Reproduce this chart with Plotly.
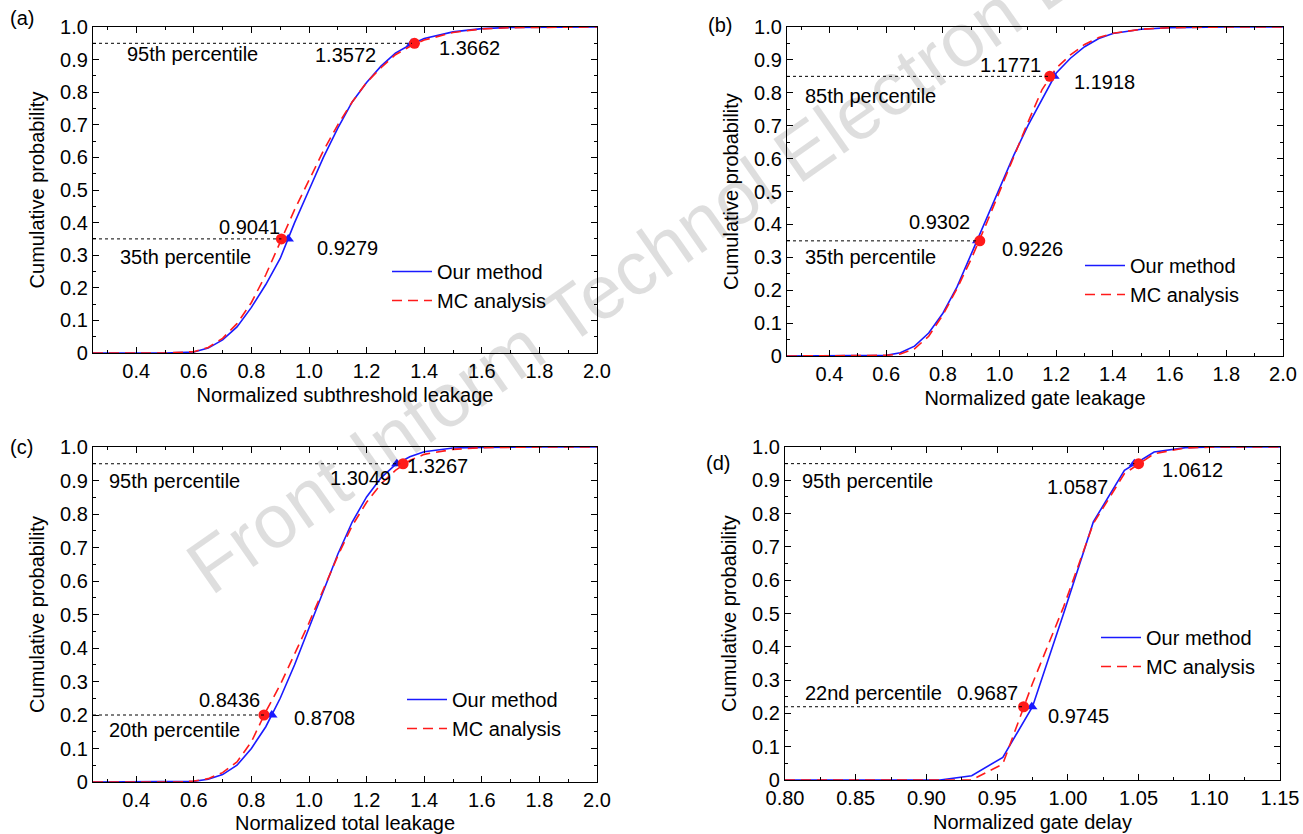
import plotly.graph_objects as go

FONT = "Liberation Sans, Arial, sans-serif"
FS = 20
W, H = 1303, 834

# ---------------- data ----------------
# (a) subthreshold leakage
a_x = [0.25, 0.50, 0.60, 0.65, 0.70, 0.75, 0.80, 0.85, 0.90, 0.95, 1.00, 1.05, 1.10,
       1.15, 1.20, 1.25, 1.30, 1.35, 1.40, 1.50, 1.60, 1.70, 2.00]
a_ours = [0, 0, 0.003, 0.015, 0.04, 0.08, 0.14, 0.21, 0.29, 0.40, 0.50, 0.60, 0.69,
          0.77, 0.83, 0.88, 0.92, 0.945, 0.965, 0.985, 0.995, 0.999, 1.0]
a_mc = [0, 0, 0.004, 0.017, 0.045, 0.09, 0.155, 0.24, 0.34, 0.44, 0.53, 0.62, 0.70,
        0.77, 0.83, 0.875, 0.915, 0.94, 0.96, 0.983, 0.994, 0.998, 1.0]

# (b) gate leakage
b_x = [0.25, 0.55, 0.60, 0.65, 0.70, 0.75, 0.80, 0.85, 0.90, 0.95, 1.00, 1.05, 1.10,
       1.15, 1.20, 1.25, 1.30, 1.35, 1.40, 1.50, 1.60, 1.80, 2.00]
b_ours = [0, 0, 0.002, 0.01, 0.03, 0.07, 0.13, 0.21, 0.31, 0.41, 0.51, 0.61, 0.70,
          0.78, 0.86, 0.905, 0.94, 0.965, 0.98, 0.993, 0.998, 1.0, 1.0]
b_mc = [0, 0, 0.002, 0.006, 0.022, 0.06, 0.125, 0.205, 0.295, 0.395, 0.50, 0.61, 0.71,
        0.81, 0.875, 0.915, 0.947, 0.968, 0.981, 0.993, 0.998, 1.0, 1.0]

# (c) total leakage
c_x = [0.25, 0.55, 0.60, 0.65, 0.70, 0.75, 0.80, 0.85, 0.90, 0.95, 1.00, 1.05, 1.10,
       1.15, 1.20, 1.25, 1.30, 1.35, 1.40, 1.50, 1.60, 1.80, 2.00]
c_ours = [0, 0, 0.002, 0.008, 0.022, 0.05, 0.10, 0.165, 0.25, 0.35, 0.46, 0.57, 0.68,
          0.776, 0.851, 0.908, 0.947, 0.971, 0.986, 0.997, 0.999, 1.0, 1.0]
c_mc = [0, 0, 0.003, 0.01, 0.028, 0.06, 0.12, 0.21, 0.29, 0.38, 0.475, 0.575, 0.675,
        0.765, 0.835, 0.89, 0.93, 0.96, 0.978, 0.993, 0.998, 1.0, 1.0]

# (d) gate delay
d_x = [0.80, 0.888, 0.9096, 0.932, 0.954, 0.975, 0.997, 1.018, 1.040, 1.061, 1.083, 1.104, 1.15]
d_ours = [0, 0, 0, 0.013, 0.068, 0.22, 0.50, 0.775, 0.93, 0.985, 0.998, 1.0, 1.0]
d_mc = [0, 0, 0, 0.0, 0.048, 0.29, 0.52, 0.77, 0.92, 0.98, 0.997, 1.0, 1.0]

# percentile markers  (probability, our method x, MC x)
a_pct = [0.95, 0.35]; a_pct_ours = [1.3572, 0.9279]; a_pct_mc = [1.3662, 0.9041]
b_pct = [0.85, 0.35]; b_pct_ours = [1.1918, 0.9226]; b_pct_mc = [1.1771, 0.9302]
c_pct = [0.95, 0.20]; c_pct_ours = [1.3049, 0.8708]; c_pct_mc = [1.3267, 0.8436]
d_pct = [0.95, 0.22]; d_pct_ours = [1.047, 0.9745]; d_pct_mc = [1.050, 0.9687]

x_titles = ["Normalized subthreshold leakage", "Normalized gate leakage",
            "Normalized total leakage", "Normalized gate delay"]
y_title = "Cumulative probability"
series_names = ["Our method", "MC analysis"]
y_tickvals = [0, 0.1, 0.2, 0.3, 0.4, 0.5, 0.6, 0.7, 0.8, 0.9, 1.0]
y_ticktext = ["0", "0.1", "0.2", "0.3", "0.4", "0.5", "0.6", "0.7", "0.8", "0.9", "1.0"]

panels = [
    (a_x, a_ours, a_mc, a_pct, a_pct_ours, a_pct_mc),
    (b_x, b_ours, b_mc, b_pct, b_pct_ours, b_pct_mc),
    (c_x, c_ours, c_mc, c_pct, c_pct_ours, c_pct_mc),
    (d_x, d_ours, d_mc, d_pct, d_pct_ours, d_pct_mc),
]

# ---------------- layout geometry (screen pixels) ----------------
boxes = [  # left, right, top, bottom
    (93, 597, 27, 353),
    (787, 1283, 27, 356),
    (93, 597, 447, 782),
    (785, 1280, 447, 780),
]
xranges = [[0.25, 2.0], [0.25, 2.0], [0.25, 2.0], [0.80, 1.15]]

def px(x):
    return x / W

def py(y):
    return 1 - y / H

BLUE = "#1a1aff"
RED = "#ff1a1a"

fig = go.Figure()

for i, (xs, ours, mc, pct, p_ours, p_mc) in enumerate(panels):
    n = "" if i == 0 else str(i + 1)
    xa, ya = "x" + n, "y" + n
    leg = "legend" + n
    fig.add_trace(go.Scatter(x=xs, y=ours, mode="lines", name=series_names[0],
                             line=dict(color=BLUE, width=1.6), xaxis=xa, yaxis=ya,
                             legend=leg))
    fig.add_trace(go.Scatter(x=xs, y=mc, mode="lines", name=series_names[1],
                             line=dict(color=RED, width=1.6, dash="10px,6px"),
                             xaxis=xa, yaxis=ya, legend=leg))
    fig.add_trace(go.Scatter(x=p_ours, y=pct, mode="markers", showlegend=False,
                             marker=dict(symbol="triangle-up", size=10, color=BLUE),
                             xaxis=xa, yaxis=ya))
    fig.add_trace(go.Scatter(x=p_mc, y=pct, mode="markers", showlegend=False,
                             marker=dict(symbol="circle", size=11, color=RED),
                             xaxis=xa, yaxis=ya))
    # dotted guide lines from the y axis to the percentile points
    for k, p in enumerate(pct):
        fig.add_shape(type="line", xref=xa, yref=ya, x0=xranges[i][0],
                      x1=min(p_ours[k], p_mc[k]), y0=p, y1=p,
                      line=dict(color="black", width=1, dash="dot"))

axis_common = dict(showline=True, linecolor="black", linewidth=1.3, mirror="ticks",
                   ticks="inside", ticklen=6, tickwidth=1.2, tickcolor="black",
                   showgrid=False, zeroline=False, automargin=False,
                   tickfont=dict(family=FONT, size=FS, color="black"))

layout = dict(width=W, height=H, margin=dict(l=0, r=0, t=0, b=0, autoexpand=False),
              paper_bgcolor="white", plot_bgcolor="white",
              font=dict(family=FONT, size=FS, color="black"))

for i, (l, r, t, b) in enumerate(boxes):
    n = "" if i == 0 else str(i + 1)
    if i < 3:
        xt = dict(tickmode="linear", tick0=0, dtick=0.2, tickformat=".1f",
                  minor=dict(dtick=0.1, ticklen=3, tickcolor="black", ticks="inside"))
    else:
        xt = dict(tickmode="linear", tick0=0, dtick=0.05, tickformat=".2f",
                  minor=dict(dtick=0.025, ticklen=3, tickcolor="black", ticks="inside"))
    layout["xaxis" + n] = dict(axis_common, domain=[px(l), px(r)], range=xranges[i],
                               anchor="y" + n, **xt,
                               title=dict(text=x_titles[i], standoff=6,
                                          font=dict(family=FONT, size=FS)))
    layout["yaxis" + n] = dict(axis_common, domain=[py(b), py(t)], range=[0, 1.0],
                               anchor="x" + n, tickmode="array", tickvals=y_tickvals,
                               ticktext=y_ticktext,
                               minor=dict(tickmode="linear", tick0=0, dtick=0.05,
                                          ticklen=3, tickcolor="black", ticks="inside"),
                               title=dict(text=y_title, standoff=10,
                                          font=dict(family=FONT, size=FS)))

# legends: (text left px, first item center y px)
legend_pos = [(437, 272), (1130, 266), (452, 700), (1146, 638)]
for i, (lx, ly) in enumerate(legend_pos):
    n = "" if i == 0 else str(i + 1)
    layout["legend" + n] = dict(x=px(lx - 50), y=py(ly - 20), xanchor="left", yanchor="top",
                                bgcolor="rgba(0,0,0,0)", borderwidth=0,
                                font=dict(family=FONT, size=FS, color="black"),
                                tracegroupgap=0, itemwidth=40)

fig.update_layout(**layout)

# text labels: (text, x px, y px, xanchor)
labels = [
    ("(a)", 8, 18, "left"), ("(b)", 706, 25, "left"), ("(c)", 8, 447, "left"), ("(d)", 704, 463, "left"),
    ("95th percentile", 125, 54, "left"), ("1.3572", 378, 55, "right"), ("1.3662", 437, 48, "left"),
    ("35th percentile", 118, 257, "left"), ("0.9041", 282, 227, "right"), ("0.9279", 315, 248, "left"),
    ("85th percentile", 803, 96, "left"), ("1.1771", 1043, 65, "right"), ("1.1918", 1072, 82, "left"),
    ("35th percentile", 803, 257, "left"), ("0.9302", 972, 222, "right"), ("0.9226", 1000, 249, "left"),
    ("95th percentile", 107, 481, "left"), ("1.3049", 393, 478, "right"), ("1.3267", 405, 466, "left"),
    ("20th percentile", 107, 730, "left"), ("0.8436", 262, 700, "right"), ("0.8708", 292, 718, "left"),
    ("95th percentile", 800, 481, "left"), ("1.0587", 1110, 487, "right"), ("1.0612", 1160, 470, "left"),
    ("22nd percentile", 803, 693, "left"), ("0.9687", 1020, 693, "right"), ("0.9745", 1046, 716, "left"),
]
for text, x, y, anc in labels:
    fig.add_annotation(text=text, x=px(x), y=py(y), xref="paper", yref="paper",
                       xanchor=anc, yanchor="middle", showarrow=False,
                       font=dict(family=FONT, size=FS, color="black"))

# publisher watermark
fig.add_annotation(text="Front Inform Technol Electron Eng", x=px(668), y=py(245),
                   xref="paper", yref="paper", showarrow=False, textangle=-35,
                   xanchor="center", yanchor="middle",
                   font=dict(family=FONT, size=76, color="rgba(0,0,0,0.13)"))

fig.write_html("out.html", config={"displayModeBar": False},
               post_script="document.body.style.margin='0px';"
                           "document.body.style.overflow='hidden';")
